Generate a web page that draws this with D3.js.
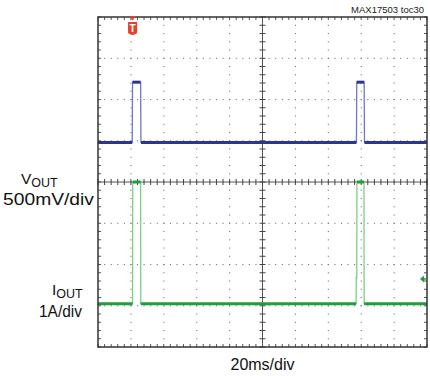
<!DOCTYPE html>
<html><head><meta charset="utf-8">
<script src="https://cdn.jsdelivr.net/npm/d3@7"></script>
<style>
html,body{margin:0;padding:0;background:#fff;}
svg{display:block;font-family:"Liberation Sans",Arial,sans-serif;}
</style></head>
<body>
<script>
// ---- data ----
const timeDomain = [0, 200];          // ms, 20 ms/div, 10 divisions
const voutDomain = [-2, 2];           // V, 500 mV/div, 8 divisions
const ioutDomain = [-1, 7];           // A, 1 A/div, 8 divisions
const voutTime = [0, 20.8, 21.0, 25.9, 26.1, 157.1, 157.3, 161.8, 162.0, 200];
const voutVal  = [0.48, 0.48, 1.21, 1.21, 0.48, 0.48, 1.21, 1.21, 0.48, 0.48];
const ioutTime = [0, 21.0, 21.1, 25.9, 26.0, 156.9, 157.0, 157.3, 157.4, 161.7, 161.8, 200];
const ioutVal  = [0.05, 0.05, 3.0, 3.0, 0.05, 0.05, 0.7, 0.65, 3.0, 3.0, 0.05, 0.05];
const triggerTime = 21;
const triggerLevelA = 0.65;
const labels = {title: "MAX17503 toc30", xLabel: "20ms/div"};

// ---- layout ----
const W = 430, H = 376;
const L = 98, R = 427, T = 17, B = 347;
const svg = d3.select("body").append("svg").attr("width", W).attr("height", H);

const x = d3.scaleLinear().domain(timeDomain).range([L, R]);
const yDiv = d3.scaleLinear().domain([-4, 4]).range([B, T]);
const xDiv = d3.scaleLinear().domain([0, 10]).range([L, R]);
const yV = d3.scaleLinear().domain(voutDomain).range([B, T]);
const yI = d3.scaleLinear().domain(ioutDomain).range([B, T]);

const grid = svg.append("g");
// dotted grid
const minorX = d3.range(0, 50.001, 1).map(i => i / 5);
const minorY = d3.range(-20, 20.001, 1).map(i => i / 5);
[1,2,3,4,6,7,8,9].forEach(d => {
  grid.selectAll(null).data(minorY.filter(v => v > -4 && v < 4)).enter().append("rect")
    .attr("x", xDiv(d) - 0.5).attr("y", v => yDiv(v) - 0.5).attr("width", 1.1).attr("height", 1.1)
    .attr("fill", "#777");
});
[-3,-2,-1,1,2,3].forEach(d => {
  grid.selectAll(null).data(minorX.filter(v => v > 0 && v < 10)).enter().append("rect")
    .attr("x", v => xDiv(v) - 0.5).attr("y", yDiv(d) - 0.5).attr("width", 1.1).attr("height", 1.1)
    .attr("fill", "#777");
});
// centre axes
grid.append("line").attr("x1", xDiv(5)).attr("x2", xDiv(5)).attr("y1", T).attr("y2", B)
  .attr("stroke", "#555").attr("stroke-width", 1);
grid.append("line").attr("x1", L).attr("x2", R).attr("y1", yDiv(0)).attr("y2", yDiv(0))
  .attr("stroke", "#555").attr("stroke-width", 1);
grid.selectAll(null).data(minorY).enter().append("line")
  .attr("x1", xDiv(5) - 3).attr("x2", xDiv(5) + 3).attr("y1", v => yDiv(v)).attr("y2", v => yDiv(v))
  .attr("stroke", "#444").attr("stroke-width", 1);
grid.selectAll(null).data(minorX).enter().append("line")
  .attr("y1", yDiv(0) - 3).attr("y2", yDiv(0) + 3).attr("x1", v => xDiv(v)).attr("x2", v => xDiv(v))
  .attr("stroke", "#444").attr("stroke-width", 1);
// edge ticks
grid.selectAll(null).data(minorX).enter().append("line")
  .attr("x1", v => xDiv(v)).attr("x2", v => xDiv(v)).attr("y1", T).attr("y2", T + 3)
  .attr("stroke", "#555");
grid.selectAll(null).data(minorX).enter().append("line")
  .attr("x1", v => xDiv(v)).attr("x2", v => xDiv(v)).attr("y1", B).attr("y2", B - 3)
  .attr("stroke", "#555");
grid.selectAll(null).data(minorY).enter().append("line")
  .attr("y1", v => yDiv(v)).attr("y2", v => yDiv(v)).attr("x1", L).attr("x2", L + 3)
  .attr("stroke", "#555");
grid.selectAll(null).data(minorY).enter().append("line")
  .attr("y1", v => yDiv(v)).attr("y2", v => yDiv(v)).attr("x1", R).attr("x2", R - 3)
  .attr("stroke", "#555");

// traces
function drawTrace(times, vals, yScale, color, edgeColor) {
  const pts = times.map((t, i) => [x(t), yScale(vals[i])]);
  svg.append("path").attr("d", d3.line()(pts)).attr("fill", "none")
    .attr("stroke", edgeColor).attr("stroke-width", 1.3);
  for (let i = 0; i < pts.length - 1; i++) {
    if (vals[i] === vals[i + 1]) {
      svg.append("line").attr("x1", pts[i][0]).attr("x2", pts[i + 1][0])
        .attr("y1", pts[i][1]).attr("y2", pts[i + 1][1])
        .attr("stroke", color).attr("stroke-width", 3);
    }
  }
}
drawTrace(voutTime, voutVal, yV, "#2b3592", "#6c78c4");
drawTrace(ioutTime, ioutVal, yI, "#1f9e3e", "#7ccf88");

// frame
svg.append("rect").attr("x", L).attr("y", T).attr("width", R - L).attr("height", B - T)
  .attr("fill", "none").attr("stroke", "#333").attr("stroke-width", 1.5);

// trigger marker
const tx = x(triggerTime);
svg.append("path").attr("d", `M${tx-3.5},${T-1} L${tx+3.5},${T-1} L${tx},${T+3.5} Z`).attr("fill", "#e5412b");
svg.append("path").attr("d", `M${tx-4.5},${T+5} L${tx+4.5},${T+5} L${tx+4.5},${T+16} Q${tx},${T+20} ${tx-4.5},${T+16} Z`)
  .attr("fill", "#e5412b");
svg.append("text").attr("x", tx).attr("y", T + 15).attr("text-anchor", "middle")
  .attr("font-size", 10).attr("font-weight", "bold").attr("fill", "#fff").text("T");

// trigger level marker (right)
const ty = yI(triggerLevelA);
svg.append("path").attr("d", `M${R-7},${ty} L${R-3},${ty-3.5} L${R-3},${ty+3.5} Z`).attr("fill", "#1f9e3e");
svg.append("line").attr("x1", R-4).attr("x2", R-1).attr("y1", ty).attr("y2", ty).attr("stroke", "#1f9e3e").attr("stroke-width", 1.5);

// texts
svg.append("text").attr("x", 424).attr("y", 13).attr("text-anchor", "end")
  .attr("font-size", 9.5).attr("fill", "#222").text(labels.title);
svg.append("text").attr("x", xDiv(5)).attr("y", 370).attr("text-anchor", "middle")
  .attr("font-size", 16).attr("fill", "#111").text(labels.xLabel);

const vLab = svg.append("text").attr("x", 21).attr("y", 184).attr("font-size", 15.5).attr("fill", "#111");
vLab.append("tspan").text("V");
vLab.append("tspan").attr("dy", 3).attr("font-size", 12.5).text("OUT");
svg.append("text").attr("x", 3).attr("y", 205).attr("textLength", 91).attr("lengthAdjust", "spacingAndGlyphs")
  .attr("font-size", 16.5).attr("fill", "#111").text("500mV/div");

const iLab = svg.append("text").attr("x", 52).attr("y", 295).attr("font-size", 15.5).attr("fill", "#111");
iLab.append("tspan").text("I");
iLab.append("tspan").attr("dy", 3).attr("font-size", 12.5).text("OUT");
svg.append("text").attr("x", 39).attr("y", 316.5).attr("textLength", 43).attr("lengthAdjust", "spacingAndGlyphs")
  .attr("font-size", 16.5).attr("fill", "#111").text("1A/div");
</script>
</body></html>
